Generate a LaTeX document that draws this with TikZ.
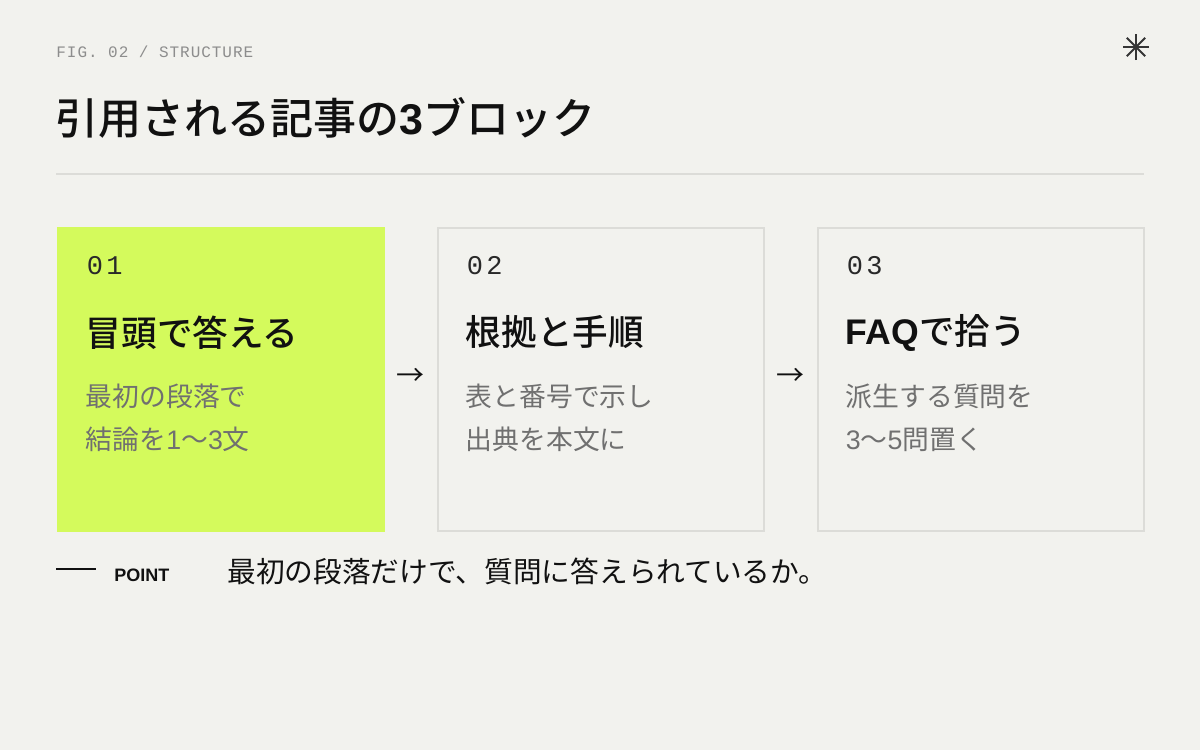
\documentclass[tikz,border=0pt]{standalone}
\usepackage{fontspec}
\setmainfont{Liberation Sans}
\setmonofont{Liberation Mono}
\newfontfamily\jp{Noto Sans CJK JP}
\newfontfamily\jpm{Noto Sans CJK JP Medium}
\newfontfamily\figfont{Liberation Mono}[LetterSpace=6]
\newfontfamily\numfont{Liberation Mono}[LetterSpace=12]
\newcommand\lat[1]{{\rmfamily #1}}
\usetikzlibrary{positioning, calc}

\definecolor{bg}{HTML}{F2F2EE}
\definecolor{lime}{HTML}{D4FA5C}
\definecolor{edge}{HTML}{DCDCD8}
\definecolor{soft}{HTML}{707070}
\definecolor{ink}{HTML}{111111}

\tikzset{
  box/.style={draw=edge, line width=1pt, minimum width=163pt, minimum height=151.5pt, inner sep=0pt},
  num/.style={anchor=west, inner sep=0pt, font=\numfont\fontsize{13.5}{13.5}\selectfont, text=ink!90},
  head/.style={anchor=west, inner sep=0pt, font=\jpm\fontsize{17.8}{17.8}\selectfont, text=ink},
  body/.style={anchor=north west, inner sep=0pt, align=left, text=soft, font=\jp\fontsize{13.4}{21.5}\selectfont},
  flow/.style={inner sep=0pt, font=\jp\fontsize{14}{14}\selectfont, text=ink}
}

\begin{document}
\begin{tikzpicture}[x=0.5pt, y=-0.5pt]
	\fill[bg] (0,0) rectangle (1200,750);
	\useasboundingbox (0,0) rectangle (1200,750);
	% header
	\node[anchor=west, inner sep=0pt, text=soft!80, font=\figfont\fontsize{8}{8}\selectfont] (fig) at (56,52) {FIG. 02 / STRUCTURE};
	\node[anchor=west, inner sep=0pt, text=ink, font=\jpm\fontsize{21.5}{21.5}\selectfont] (title) at (55,118) {引用される記事の\lat{\bfseries 3}ブロック};
	\draw[edge, line width=1pt] (56,174) -- (1144,174);
	\coordinate (star) at (1136,47);
	\foreach \a in {0, 45, 90, 135}
		\draw[ink!85, line width=1pt] ($(star)+(\a:13)$) -- ($(star)+(\a+180:13)$);
	% blocks
	\node[box, fill=lime, draw=lime, anchor=north west] (b1) at (56.5,226.5) {};
	\node[box, right=26pt of b1] (b2) {};
	\node[box, right=26pt of b2] (b3) {};
	\foreach \b/\n/\h/\t in {b1/01/冒頭で答える/{最初の段落で\\結論を\lat{1}〜\lat{3}文},
	                         b2/02/根拠と手順/{表と番号で示し\\出典を本文に},
	                         b3/03/{\lat{\bfseries FAQ}で拾う}/{派生する質問を\\\lat{3}〜\lat{5}問置く}} {
		\node[num] (\b-num) at ([xshift=15pt, yshift=-19.5pt]\b.north west) {\n};
		\node[head] (\b-head) at ([xshift=14.5pt, yshift=-53pt]\b.north west) {\h};
		\node[body] (\b-body) at ([xshift=14.5pt, yshift=-78.5pt]\b.north west) {\t};
	}
	\node[flow] (a1) at ($(b1.east)!0.5!(b2.west)+(0,-2)$) {→};
	\node[flow] (a2) at ($(b2.east)!0.5!(b3.west)+(0,-2)$) {→};
	% point
	\draw[ink, line width=0.8pt] (56,569) -- (96,569);
	\node[anchor=west, inner sep=0pt, text=ink, font=\bfseries\fontsize{9}{9}\selectfont] (point) at (114,575) {POINT};
	\node[anchor=west, inner sep=0pt, text=ink, font=\jp\fontsize{14.35}{14.35}\selectfont] (note) at (227,571) {最初の段落だけで、質問に答えられているか。};
\end{tikzpicture}
\end{document}
